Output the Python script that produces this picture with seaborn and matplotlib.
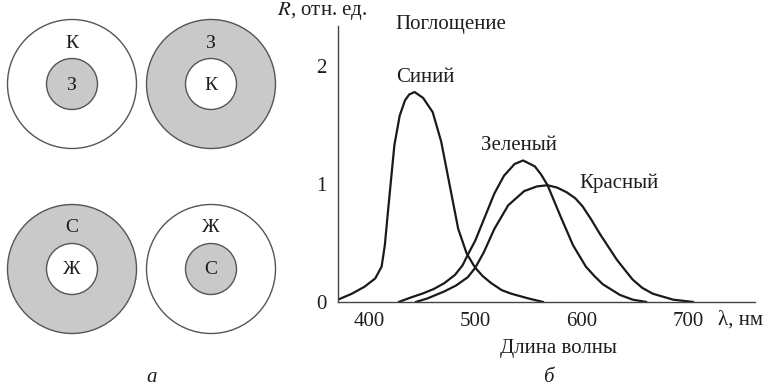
import numpy as np
import pandas as pd
import matplotlib
matplotlib.use("Agg")
import matplotlib.pyplot as plt
from matplotlib.patches import Circle
import seaborn as sns

# absorption curves (wavelength nm, relative units)
blue_nm = [371, 384, 396, 406, 412, 415, 418, 421, 424, 429, 434, 438, 443, 451, 460, 468, 476, 484, 492, 500, 507, 515, 525, 534, 550, 564]
blue_r = [0.02, 0.07, 0.13, 0.20, 0.30, 0.48, 0.77, 1.05, 1.33, 1.58, 1.71, 1.76, 1.78, 1.73, 1.61, 1.36, 0.99, 0.62, 0.41, 0.29, 0.22, 0.16, 0.10, 0.07, 0.03, 0.0]

green_nm = [428, 440, 450, 461, 471, 481, 488, 493, 500, 509, 518, 527, 537, 545, 556, 562, 568, 574, 580, 592, 604, 612, 620, 636, 648, 661]
green_r = [0.0, 0.04, 0.07, 0.11, 0.16, 0.23, 0.31, 0.40, 0.52, 0.72, 0.92, 1.07, 1.17, 1.20, 1.15, 1.08, 0.99, 0.86, 0.73, 0.48, 0.30, 0.22, 0.15, 0.06, 0.02, 0.0]

red_nm = [444, 455, 471, 482, 493, 500, 508, 518, 531, 546, 558, 568, 577, 586, 594, 601, 609, 617, 625, 633, 640, 648, 657, 667, 686, 705]
red_r = [0.0, 0.03, 0.09, 0.14, 0.21, 0.29, 0.42, 0.62, 0.82, 0.94, 0.98, 0.99, 0.97, 0.93, 0.88, 0.81, 0.70, 0.58, 0.47, 0.36, 0.28, 0.19, 0.12, 0.07, 0.02, 0.0]

curve_names = ["Синий", "Зеленый", "Красный"]

x_ticks = [400, 500, 600, 700]
y_ticks = [0, 1, 2]

# centre-surround fields: (outer label, inner label, outer filled)
fields = [("К", "З", False), ("З", "К", True), ("С", "Ж", True), ("Ж", "С", False)]

sns.set_theme(style="white")
plt.rcParams["font.family"] = ["Liberation Serif", "DejaVu Serif"]
plt.rcParams["mathtext.fontset"] = "stix"

fig = plt.figure(figsize=(7.68, 3.86), dpi=100)
W, H = 768, 386
txt = "#1e1e1e"

# ---- panel a: circles, drawn in pixel units ----
axa = fig.add_axes([0, 0, 300 / W, 1])
axa.set_xlim(0, 300)
axa.set_ylim(H, 0)
axa.set_aspect("equal")
axa.axis("off")
gray = "#c9c9c9"
edge = "#555555"
centers = [(72, 84), (211, 84), (72, 269), (211, 269)]
for (cx, cy), (outer, inner, filled) in zip(centers, fields):
    axa.add_patch(Circle((cx, cy), 64.5, facecolor=gray if filled else "white",
                         edgecolor=edge, lw=1.0))
    axa.add_patch(Circle((cx, cy), 25.5, facecolor="white" if filled else gray,
                         edgecolor=edge, lw=1.0))
    axa.text(cx, cy - 41, outer, ha="center", va="center", fontsize=14, color=txt)
    axa.text(cx, cy + 1, inner, ha="center", va="center", fontsize=14, color=txt)
axa.text(152, 377, "а", ha="center", va="center", fontsize=15, style="italic", color=txt)

# ---- panel b: absorption spectra ----
df = pd.concat([
    pd.DataFrame({"nm": blue_nm, "r": blue_r, "curve": curve_names[0]}),
    pd.DataFrame({"nm": green_nm, "r": green_r, "curve": curve_names[1]}),
    pd.DataFrame({"nm": red_nm, "r": red_r, "curve": curve_names[2]}),
])

left, right, bottom, top = 338, 755, 302, 26
ax = fig.add_axes([left / W, 1 - bottom / H, (right - left) / W, (bottom - top) / H])
sns.lineplot(data=df, x="nm", y="r", units="curve", estimator=None, sort=False,
             color="#1a1a1a", lw=1.6, legend=False, ax=ax)
ax.set_xlim(371, 763)
ax.set_ylim(0, 2.34)
ax.set_xticks(x_ticks)
ax.set_xticks([450, 550, 650], minor=True)
ax.set_yticks(y_ticks)
ax.set_yticks([0.5, 1.5], minor=True)
ax.tick_params(axis="both", which="both", direction="in", length=4, width=0.6,
               color="#777777", labelsize=15, labelcolor=txt)
ax.tick_params(axis="both", which="minor", length=3)
ax.tick_params(axis="x", which="major", pad=7)
ax.tick_params(axis="y", which="major", pad=8)
ax.set_xlabel("")
ax.set_ylabel("")
ax.grid(False)
sns.despine(ax=ax)
for s in ["left", "bottom"]:
    ax.spines[s].set_color("#444444")
    ax.spines[s].set_linewidth(1.0)
ax.patch.set_alpha(0)

kw = dict(fontsize=15, color=txt, va="center")
fig.text(396 / W, 1 - 78 / H, "Синий", ha="left", **kw)
fig.text(481 / W, 1 - 146 / H, "Зеленый", ha="left", **kw)
fig.text(579 / W, 1 - 183 / H, "Красный", ha="left", **kw)
fig.text(395 / W, 1 - 24 / H, "Поглощение", ha="left", **kw)
fig.text(277 / W, 1 - 11 / H, "$R$, отн. ед.", ha="left", **kw)
fig.text(718 / W, 1 - 320 / H, "λ, нм", ha="left", **kw)
fig.text(558 / W, 1 - 348 / H, "Длина волны", ha="center", **kw)
fig.text(548 / W, 1 - 378 / H, "б", ha="center", style="italic", **kw)

fig.savefig("out.png", dpi=100, facecolor="white")
